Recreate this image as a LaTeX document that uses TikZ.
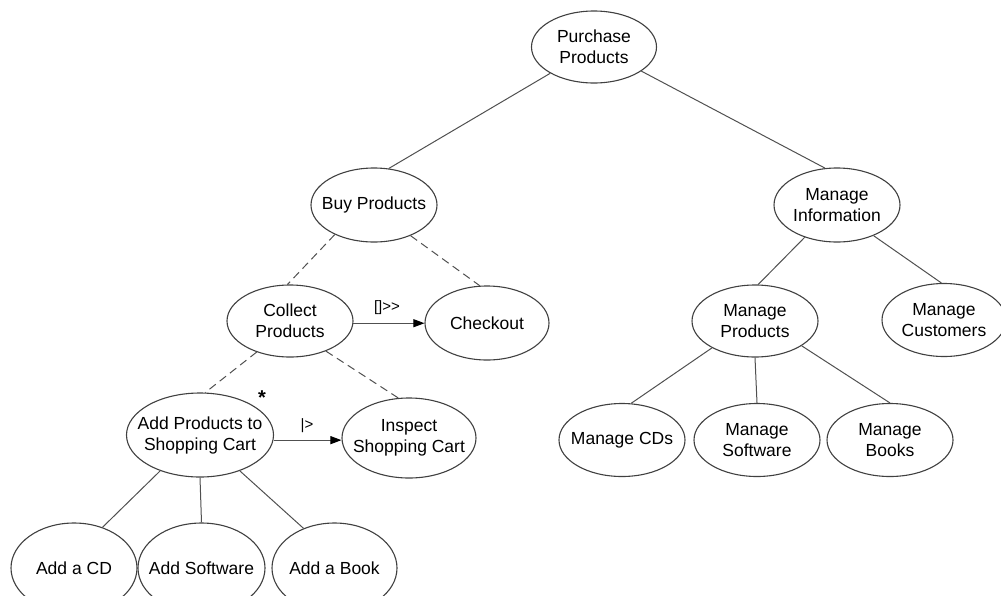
\documentclass[tikz,border=0pt]{standalone}
\usepackage{fontspec}
\setmainfont{Liberation Sans}
\usetikzlibrary{shapes.geometric,arrows.meta}

\definecolor{ucline}{HTML}{404040}
\definecolor{edgecol}{HTML}{505050}

\tikzset{
  uc/.style={ellipse, draw=ucline, line width=1.1pt,
    inner xsep=-50pt, inner ysep=-20pt,
    align=center, text=black, font=\fontsize{17.5}{21}\selectfont},
  link/.style={draw=edgecol, line width=1pt},
  dashlink/.style={link, dash pattern=on 8pt off 5pt},
  flow/.style={link, -{Triangle[length=11pt,width=8pt,color=black]}},
  oplabel/.style={inner sep=0pt, text=black, font=\fontsize{15}{18}\selectfont}
}

\begin{document}
\begin{tikzpicture}[x=1pt, y=-1pt]
\useasboundingbox (0,0) rectangle (1001,595);

% task nodes
\node[uc, minimum width=125pt, minimum height=72pt] (pp) at (594,47) {Purchase\\Products};
\node[uc, minimum width=126pt, minimum height=74pt] (buy) at (374,205) {Buy Products};
\node[uc, minimum width=126pt, minimum height=74pt] (mi) at (837,205) {Manage\\Information};
\node[uc, minimum width=126pt, minimum height=72pt] (col) at (290,321) {Collect\\Products};
\node[uc, minimum width=124pt, minimum height=74pt] (chk) at (487,323) {Checkout};
\node[uc, minimum width=147pt, minimum height=84pt] (add) at (200,435) {Add Products to\\Shopping Cart};
\node[uc, minimum width=134pt, minimum height=80pt] (insp) at (409,438) {Inspect\\Shopping Cart};
\node[uc, minimum width=126pt, minimum height=90pt] (acd) at (74,568) {Add a CD};
\node[uc, minimum width=127pt, minimum height=90pt] (asw) at (201.5,568) {Add Software};
\node[uc, minimum width=125pt, minimum height=90pt] (abk) at (334.5,568) {Add a Book};
\node[uc, minimum width=126pt, minimum height=72pt] (mp) at (755,321) {Manage\\Products};
\node[uc, minimum width=124pt, minimum height=73pt] (mc) at (944,320) {Manage\\Customers};
\node[uc, minimum width=126pt, minimum height=73pt] (mcd) at (622,440) {Manage CDs};
\node[uc, minimum width=126pt, minimum height=73pt] (msw) at (757,440) {Manage\\Software};
\node[uc, minimum width=126pt, minimum height=73pt] (mbk) at (890,440) {Manage\\Books};

% iteration marker
\node[anchor=north, inner sep=0pt, font=\fontsize{20}{20}\selectfont\bfseries] (iter) at (262,391) {*};

% decomposition links
\draw[link] (pp.211.5) -- (buy.68.7);
\draw[link] (pp.333.9) -- (mi.108.4);
\draw[dashlink] (buy.217.6) -- (col.94.8);
\draw[dashlink] (buy.320.6) -- (chk.101);
\draw[dashlink] (col.223.5) -- (add.83);
\draw[dashlink] (col.320) -- (insp.105);
\draw[link] (add.222) -- (acd.55.4);
\draw[link] (add.270) -- (asw.90);
\draw[link] (add.318.5) -- (abk.128.4);
\draw[link] (mi.225) -- (mp.85);
\draw[link] (mi.320.8) -- (mc.94.6);
\draw[link] (mp.212) -- (mcd.76);
\draw[link] (mp.270) -- (msw.90);
\draw[link] (mp.332.5) -- (mbk.90);

% temporal operators
\draw[flow] (col.-2) -- (col.-2 -| chk.west);
\node[oplabel] (op1) at (387,308) {[]{>}{>}};
\draw[flow] (add.-4) -- (add.-4 -| insp.west);
\node[oplabel] (op2) at (307,426) {|{>}};
\end{tikzpicture}
\end{document}
